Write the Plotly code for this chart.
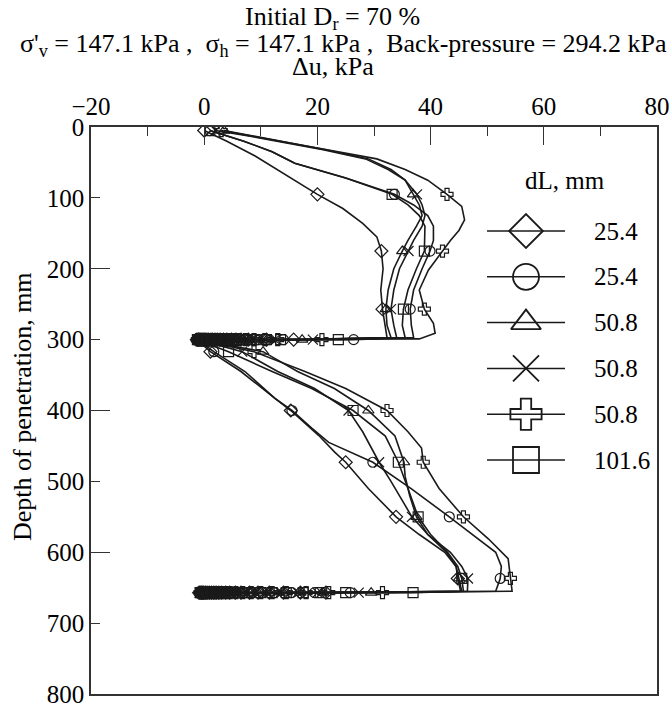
import plotly.graph_objects as go

# ---------------- data ----------------
legend_labels = ["25.4", "25.4", "50.8", "50.8", "50.8", "101.6"]
symbols = ["diamond-open", "circle-open", "triangle-up-open", "x-thin-open", "cross-open", "square-open"]

STOP1 = 300   # depth of first pause (mm)
STOP2 = 657   # depth of second pause (mm)
MK1 = [5, 95, 175, 257]            # depths where markers are drawn, first push
MK3 = [317, 400, 473, 550, 637]    # depths where markers are drawn, second push

# Series 1: diamond, dL = 25.4
dia_depth1 = [5, 20, 41, 65, 95, 115, 136, 155, 175, 200, 230, 257, 280, 297]
dia_du1 = [0, 4, 9, 14, 20, 24.5, 28, 30.5, 31.3, 31.6, 31.2, 31.5, 32, 32.3]
dia_dis1 = [15.8, 11, 7.8, 6.5, 5.6, 4.8, 4, 3.4, 2.8, 2.3, 1.9, 1.5, 1.2, 0.8, 0.5, 0.2, 0, -0.2, -0.4, -0.6, -0.8, -1.0, -1.1, -1.3]
dia_depth3 = [317, 345, 383, 400, 435, 459, 473, 510, 550, 575, 600, 620, 637, 655]
dia_du3 = [1.1, 6.5, 12.5, 15.3, 20.2, 23.1, 25, 29, 33.9, 38, 42.5, 44.5, 44.8, 45.3]
dia_dis2 = [21.5, 17, 14, 11.5, 9.5, 8, 6.5, 5.5, 4.5, 3.8, 3.1, 2.6, 2.1, 1.7, 1.3, 0.9, 0.5, 0.2, -0.1, -0.3, -0.5, -0.7, -0.9]

# Series 2: circle, dL = 25.4
cir_depth1 = [5, 20, 35, 51, 72, 95, 110, 125, 140, 160, 175, 200, 230, 257, 280, 297]
cir_du1 = [1, 7, 12, 16, 25, 33.6, 37, 39.5, 40.5, 40.5, 39.9, 38.5, 37, 36.4, 36.6, 37]
cir_dis1 = [26.4, 14.0, 11.5, 9.5, 8, 6.5, 5.5, 4.5, 3.8, 3.1, 2.6, 2.1, 1.7, 1.3, 0.9, 0.5, 0.2, -0.1, -0.3, -0.5, -0.7, -0.9, -1.0, -1.2]
cir_depth3 = [317, 345, 383, 400, 425, 445, 473, 510, 550, 581, 600, 620, 637, 655]
cir_du3 = [1.7, 7.2, 12.5, 15.5, 19, 22, 29.8, 36.5, 43.3, 48.4, 51.5, 52.5, 52.3, 51.5]
cir_dis2 = [25.8, 19.5, 15.5, 12.5, 10.2, 8.5, 7, 5.8, 4.8, 4, 3.3, 2.7, 2.2, 1.8, 1.4, 1.1, 0.7, 0.4, 0.1, -0.2, -0.4, -0.6, -0.8]

# Series 3: triangle, dL = 50.8
tri_depth1 = [5, 15, 32, 45, 60, 75, 95, 110, 125, 140, 160, 175, 200, 230, 257, 280, 297]
tri_du1 = [3.5, 10, 21.5, 29, 33, 35.5, 36.9, 38, 38.5, 37.5, 36, 35, 33.5, 32.5, 32.1, 32.3, 33]
tri_dis1 = [17.3, 11.5, 9.5, 8, 6.7, 5.5, 4.6, 3.8, 3.2, 2.6, 2.1, 1.7, 1.3, 1.0, 0.6, 0.3, 0, -0.2, -0.4, -0.6, -0.8, -1.0, -1.2]
tri_depth3 = [317, 345, 369, 400, 436, 473, 493, 520, 550, 575, 600, 620, 637, 655]
tri_du3 = [10.4, 16.5, 23, 29, 33.7, 35.3, 35.5, 36.3, 37.5, 39.5, 42.8, 44.5, 45, 45.5]
tri_dis2 = [29.5, 21, 17, 14, 11.5, 9.5, 8, 6.5, 5.5, 4.5, 3.7, 3, 2.5, 2, 1.6, 1.2, 0.9, 0.5, 0.2, -0.1, -0.3, -0.5, -0.7]

# Series 4: cross (x), dL = 50.8
xx_depth1 = [5, 15, 32, 45, 60, 75, 95, 110, 125, 140, 160, 175, 200, 230, 257, 280, 297]
xx_du1 = [2, 9.5, 21, 28.5, 32.5, 35.5, 37.6, 38.5, 39, 38.5, 37, 36.1, 34.5, 33.5, 33, 33.5, 34]
xx_dis1 = [19.2, 12.5, 10.3, 8.5, 7.2, 6, 5, 4.2, 3.5, 2.9, 2.4, 1.9, 1.5, 1.2, 0.8, 0.4, 0.1, -0.1, -0.3, -0.5, -0.7, -0.9, -1.1]
xx_depth3 = [317, 345, 369, 400, 430, 453, 473, 500, 550, 575, 600, 620, 637, 655]
xx_du3 = [6.7, 13, 19.5, 25.5, 28, 29.6, 30.9, 33, 36.7, 39.5, 43.5, 45.5, 46.6, 46.5]
xx_dis2 = [27.3, 20, 16.5, 13.5, 11, 9, 7.5, 6.2, 5.2, 4.3, 3.5, 2.9, 2.4, 1.9, 1.5, 1.1, 0.8, 0.4, 0.1, -0.2, -0.4, -0.6, -0.8]

# Series 5: plus, dL = 50.8
pls_depth1 = [5, 15, 32, 45, 60, 75, 95, 112, 131, 146, 160, 175, 202, 230, 257, 277, 291, 299]
pls_du1 = [3, 10, 22, 30.5, 35.5, 39.5, 42.9, 45.5, 46, 45, 43.5, 42.1, 39.6, 38, 38.9, 40.5, 40.8, 38]
pls_dis1 = [20.8, 13, 10.7, 8.8, 7.3, 6, 5, 4.2, 3.5, 2.9, 2.4, 1.9, 1.5, 1.2, 0.8, 0.4, 0.1, -0.1, -0.3, -0.5, -0.7, -0.9, -1.2]
pls_depth3 = [317, 345, 369, 400, 430, 453, 473, 510, 550, 581, 609, 637, 655]
pls_du3 = [8.8, 17.8, 25, 32.3, 36, 38.4, 38.7, 41.5, 45.8, 50.2, 53.7, 54.1, 54.4]
pls_dis2 = [31.5, 22, 18, 14.5, 12, 10, 8.3, 6.8, 5.6, 4.6, 3.8, 3.1, 2.6, 2.1, 1.7, 1.4, 0.9, 0.5, 0.2, -0.1, -0.3, -0.5, -0.7]

# Series 6: square, dL = 101.6
sq_depth1 = [5, 20, 35, 51, 72, 95, 110, 125, 140, 160, 175, 200, 230, 257, 280, 297]
sq_du1 = [1, 7, 12, 16, 25, 33.2, 36, 38, 39, 39, 38.9, 37.5, 36, 35.2, 35, 35.5]
sq_dis1 = [23.7, 13.5, 11, 9, 7.5, 6.2, 5.2, 4.3, 3.6, 3, 2.5, 2, 1.6, 1.2, 0.8, 0.4, 0.1, -0.1, -0.3, -0.5, -0.7, -0.9, -1.2]
sq_depth3 = [317, 345, 369, 400, 436, 473, 510, 550, 575, 600, 620, 637, 655]
sq_du3 = [4.3, 12, 19, 26.3, 32, 34.3, 36, 37.8, 40, 43, 44.8, 45.5, 45.8]
sq_dis2 = [36.9, 25, 20.5, 17.5, 14.5, 12, 10, 8, 6.7, 5.5, 4.5, 3.7, 3.1, 2.5, 2, 1.6, 1.1, 0.6, 0.3, 0, -0.3, -0.5, -0.7]

x_ticks = [-20, 0, 20, 40, 60, 80]
y_ticks = [0, 100, 200, 300, 400, 500, 600, 700, 800]
y_long_ticks = [0, 200, 400, 600, 800]

# ---------------- figure ----------------
FONT = "'Liberation Serif', 'DejaVu Serif', 'Times New Roman', serif"
AX = "#333333"
INK = "#1a1a1a"

TOP, BOT = 127, 10          # plot margins (px)
PLOT_BOTTOM = 704 - BOT     # pixel row of the bottom axis
PLOT_H = 704 - TOP - BOT

all_series = [
    (dia_depth1, dia_du1, dia_dis1, dia_depth3, dia_du3, dia_dis2),
    (cir_depth1, cir_du1, cir_dis1, cir_depth3, cir_du3, cir_dis2),
    (tri_depth1, tri_du1, tri_dis1, tri_depth3, tri_du3, tri_dis2),
    (xx_depth1, xx_du1, xx_dis1, xx_depth3, xx_du3, xx_dis2),
    (pls_depth1, pls_du1, pls_dis1, pls_depth3, pls_du3, pls_dis2),
    (sq_depth1, sq_du1, sq_dis1, sq_depth3, sq_du3, sq_dis2),
]

fig = go.Figure()

# lines first
for (d1, u1, s1, d3, u3, s2) in all_series:
    lx = u1 + s1 + u3 + s2
    ly = d1 + [STOP1] * len(s1) + d3 + [STOP2] * len(s2)
    fig.add_trace(go.Scatter(x=lx, y=ly, mode="lines",
                             line=dict(color=INK, width=1.6),
                             hoverinfo="skip", showlegend=False))

# markers on top
for (d1, u1, s1, d3, u3, s2), sym in zip(all_series, symbols):
    m1 = [(d, u) for d, u in zip(d1, u1) if d in MK1]
    m3 = [(d, u) for d, u in zip(d3, u3) if d in MK3]
    mx = [u for _, u in m1] + s1 + [u for _, u in m3] + s2
    my = [d for d, _ in m1] + [STOP1] * len(s1) + [d for d, _ in m3] + [STOP2] * len(s2)
    fig.add_trace(go.Scatter(x=mx, y=my, mode="markers",
                             marker=dict(symbol=sym, size=10, color=INK,
                                         line=dict(width=1.2, color=INK)),
                             hoverinfo="skip", showlegend=False))

# dummy trace for the overlay axis carrying the long y ticks
fig.add_trace(go.Scatter(x=[None], y=[None], yaxis="y2", showlegend=False, hoverinfo="skip"))

# custom legend drawn in an inset pair of axes (x3/y3)
for i, (sym, lab) in enumerate(zip(symbols, legend_labels)):
    fig.add_trace(go.Scatter(x=[0, 1], y=[i, i], mode="lines", xaxis="x3", yaxis="y3",
                             line=dict(color=INK, width=1.5),
                             hoverinfo="skip", showlegend=False))
    fig.add_trace(go.Scatter(x=[0.5], y=[i], mode="markers", xaxis="x3", yaxis="y3",
                             marker=dict(symbol=sym, size=26, color=INK,
                                         line=dict(width=1.8, color=INK)),
                             hoverinfo="skip", showlegend=False))
    fig.add_annotation(x=1.35, y=i, xref="x3", yref="y3", text=lab, showarrow=False,
                       xanchor="left", yanchor="middle",
                       font=dict(family=FONT, size=25, color="black"))

fig.add_annotation(x=1.0, y=-1.1, xref="x3", yref="y3", text="dL, mm", showarrow=False,
                   xanchor="center", yanchor="middle",
                   font=dict(family=FONT, size=25, color="black"))

# titles
def px_x(px):
    return (px - 91) / 566.0

def px_y(py):
    return (PLOT_BOTTOM - py) / float(PLOT_H)

fig.add_annotation(x=px_x(332), y=px_y(18), xref="paper", yref="paper",
                   text="Initial D<sub>r</sub> = 70 %", showarrow=False,
                   xanchor="center", yanchor="middle",
                   font=dict(family=FONT, size=26, color="black"))
fig.add_annotation(x=px_x(343), y=px_y(45), xref="paper", yref="paper",
                   text="σ'<sub>v</sub> = 147.1 kPa ,\u00a0 σ<sub>h</sub> = 147.1 kPa ,\u00a0 Back-pressure = 294.2 kPa",
                   showarrow=False, xanchor="center", yanchor="middle",
                   font=dict(family=FONT, size=26, color="black"))
fig.add_annotation(x=px_x(333), y=px_y(66), xref="paper", yref="paper",
                   text="Δu, kPa", showarrow=False, xanchor="center", yanchor="middle",
                   font=dict(family=FONT, size=26, color="black"))
fig.add_annotation(x=px_x(22), y=px_y(407), xref="paper", yref="paper",
                   text="Depth of penetration, mm", textangle=-90, showarrow=False,
                   xanchor="center", yanchor="middle",
                   font=dict(family=FONT, size=26, color="black"))

LEG_PX = 45.8  # legend row pitch in px
LEG_TOP_ROW = 231   # pixel row of the first legend entry
leg_lo = LEG_TOP_ROW + 5.5 * LEG_PX   # bottom of legend box (value 5.5)
leg_hi = 150                            # top of legend box
fig.update_layout(
    width=672, height=704,
    margin=dict(l=91, r=15, t=TOP, b=BOT, autoexpand=False),
    paper_bgcolor="white", plot_bgcolor="white",
    showlegend=False,
    font=dict(family=FONT, size=25, color="black"),
    xaxis=dict(range=[-20, 80], side="top", tickmode="array", tickvals=x_ticks,
               ticks="inside", ticklen=18, tickwidth=1.2, tickcolor=AX,
               minor=dict(dtick=10, tick0=0, ticks="inside", ticklen=9, tickwidth=1.2, tickcolor=AX),
               showline=True, linecolor=AX, linewidth=1.5, mirror=True,
               showgrid=False, zeroline=False, automargin=False,
               tickfont=dict(family=FONT, size=25, color="black")),
    yaxis=dict(range=[800, 0], tickmode="array", tickvals=y_ticks,
               ticks="inside", ticklen=9, tickwidth=1.2, tickcolor=AX,
               showline=True, linecolor=AX, linewidth=1.5, mirror=True,
               showgrid=False, zeroline=False, ticklabeloverflow="allow", automargin=False,
               tickfont=dict(family=FONT, size=25, color="black")),
    yaxis2=dict(range=[800, 0], overlaying="y", side="left", anchor="x",
                tickmode="array", tickvals=y_long_ticks, ticks="inside", ticklen=19,
                tickwidth=1.2, tickcolor=AX, showticklabels=False, automargin=False,
                showline=False, showgrid=False, zeroline=False),
    xaxis3=dict(domain=[(487 - 91) / 566.0, (657 - 91) / 566.0], anchor="y3",
                range=[0, (657 - 487) / 78.0], visible=False),
    yaxis3=dict(domain=[(PLOT_BOTTOM - leg_lo) / PLOT_H, (PLOT_BOTTOM - leg_hi) / PLOT_H],
                anchor="x3",
                range=[5.5, -(LEG_TOP_ROW - leg_hi) / LEG_PX], visible=False),
)

fig.write_html("out.html")
